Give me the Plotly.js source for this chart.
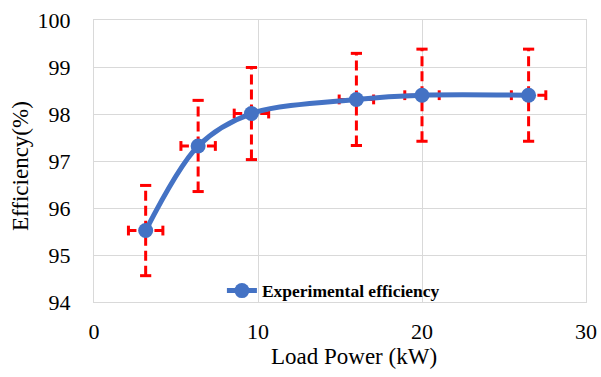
<!DOCTYPE html>
<html>
<head>
<meta charset="utf-8">
<script src="https://cdn.plot.ly/plotly-3.0.1.min.js"></script>
<style>html,body{margin:0;padding:0;background:#fff;}#chart{width:601px;height:377px;}</style>
</head>
<body>
<div id="chart"></div>
<script>
const loadPower = [3.15, 6.35, 9.6, 16.0, 20.0, 26.5];
const efficiency = [95.52, 97.32, 98.01, 98.31, 98.40, 98.40];
const efficiencyError = [0.96, 0.97, 0.98, 0.98, 0.98, 0.98];
const powerError = [1.05, 1.05, 1.05, 1.05, 1.05, 1.05];
const xTicks = [0, 10, 20, 30];
const yTicks = [94, 95, 96, 97, 98, 99, 100];
const seriesName = 'Experimental efficiency';

const red = '#FF0000';
const blue = '#4472C4';
const serif = '"Liberation Serif"';

const vx = [], vy = [], hx = [], hy = [];
const capVx = [], capVy = [], capHx = [], capHy = [];
loadPower.forEach((x, i) => {
  const y = efficiency[i], e = efficiencyError[i], p = powerError[i];
  vx.push(x, x, null); vy.push(y - e, y + e, null);
  hx.push(x - p, x + p, null); hy.push(y, y, null);
  capVx.push(x, x); capVy.push(y - e, y + e);
  capHx.push(x - p, x + p); capHy.push(y, y);
});

const traces = [
  {x: vx, y: vy, mode: 'lines', showlegend: false, hoverinfo: 'skip',
   line: {color: red, width: 3, dash: '10px,5px'}},
  {x: hx, y: hy, mode: 'lines', showlegend: false, hoverinfo: 'skip',
   line: {color: red, width: 3, dash: '8px,5px'}},
  {x: capVx, y: capVy, mode: 'markers', showlegend: false, hoverinfo: 'skip',
   marker: {symbol: 'line-ew', size: 8, line: {color: red, width: 3}}},
  {x: capHx, y: capHy, mode: 'markers', showlegend: false, hoverinfo: 'skip',
   marker: {symbol: 'line-ns', size: 7, line: {color: red, width: 3}}},
  {x: loadPower, y: efficiency, name: seriesName, mode: 'lines+markers',
   line: {color: blue, width: 5, shape: 'spline', smoothing: 0.9},
   marker: {color: blue, size: 15}}
];

const layout = {
  width: 601, height: 377,
  margin: {l: 94, r: 15, t: 20, b: 75},
  paper_bgcolor: '#fff', plot_bgcolor: '#fff',
  font: {family: serif, color: '#000', size: 21},
  showlegend: true,
  legend: {x: 0.26, xanchor: 'left', y: 0.04, yanchor: 'middle',
    bgcolor: 'rgba(0,0,0,0)', borderwidth: 0,
    font: {family: serif, size: 17.5, color: '#000', weight: 'bold'}},
  xaxis: {range: [0, 30], tickvals: xTicks, ticktext: xTicks.map(String),
    showgrid: true, gridcolor: '#d9d9d9', gridwidth: 1, zeroline: false,
    showline: true, linecolor: '#d9d9d9', linewidth: 1, mirror: true,
    ticks: 'outside', ticklen: 10, tickcolor: 'rgba(0,0,0,0)',
    tickfont: {family: serif, size: 22, color: '#000'}},
  yaxis: {range: [94, 100], tickvals: yTicks, ticktext: yTicks.map(String),
    showgrid: true, gridcolor: '#d9d9d9', gridwidth: 1, zeroline: false,
    showline: true, linecolor: '#d9d9d9', linewidth: 1, mirror: true,
    ticks: 'outside', ticklen: 18, tickcolor: 'rgba(0,0,0,0)',
    tickfont: {family: serif, size: 22, color: '#000'}},
  annotations: [
    {text: 'Load Power (kW)', xref: 'paper', yref: 'paper',
     x: (354 - 94) / 492, y: -(357 - 302) / 282, xanchor: 'center', yanchor: 'middle',
     showarrow: false, font: {family: serif, size: 23, color: '#000'}},
    {text: 'Efficiency(%)', xref: 'paper', yref: 'paper', textangle: -90,
     x: -(94 - 20) / 492, y: (302 - 166) / 282, xanchor: 'center', yanchor: 'middle',
     showarrow: false, font: {family: serif, size: 23, color: '#000'}}
  ]
};

Plotly.newPlot('chart', traces, layout, {displayModeBar: false, staticPlot: true});
</script>
</body>
</html>
